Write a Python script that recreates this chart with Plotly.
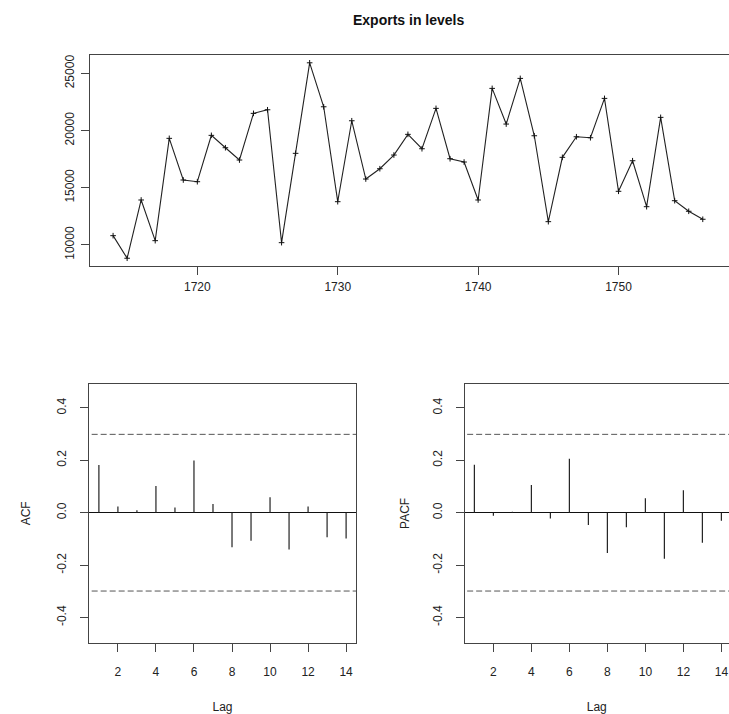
import numpy as np
import plotly.graph_objects as go

# ---- data ----
years = list(range(1714, 1757))
exports = [10804, 8829, 13925, 10367, 19318, 15673, 15524, 19580, 18497, 17421,
           21503, 21818, 10192, 18007, 25927, 22080, 13776, 20857, 15760, 16661,
           17858, 19668, 18409, 21941, 17535, 17247, 13925, 23689, 20568, 24563,
           19545, 12028, 17657, 19458, 19371, 22815, 14685, 17360, 13339, 21154,
           13864, 12937, 12238]
lags = list(range(1, 15))
acf_vals = [0.182, 0.024, 0.009, 0.102, 0.020, 0.199, 0.033, -0.132, -0.107,
            0.059, -0.140, 0.024, -0.094, -0.098]
pacf_vals = [0.183, -0.012, 0.004, 0.106, -0.022, 0.206, -0.047, -0.154, -0.056,
             0.055, -0.176, 0.086, -0.115, -0.031]
year_ticks = [1720, 1730, 1740, 1750]
level_ticks = [10000, 15000, 20000, 25000]
level_tick_text = ["10000", "15000", "20000", "25000"]
corr_ticks = [-0.4, -0.2, 0.0, 0.2, 0.4]
corr_tick_text = ["-0.4", "-0.2", "0.0", "0.2", "0.4"]
lag_ticks = [2, 4, 6, 8, 10, 12, 14]

n = len(exports)
ci = 1.96 / np.sqrt(n)

W, H = 729, 714
FONT = "Liberation Sans, Arial, sans-serif"
AX = "#444444"
TXT = "#222222"


def px_x(a, b):
    return [a / W, min(b / W, 1.0)]


def px_y(top, bottom):
    return [1 - bottom / H, 1 - top / H]


def spikes(xs, ys):
    sx, sy = [], []
    for x, y in zip(xs, ys):
        sx += [x, x, None]
        sy += [0, y, None]
    return sx, sy


fig = go.Figure()

fig.add_trace(go.Scatter(
    x=years, y=exports, mode="lines+markers",
    line=dict(color="#222222", width=1.1),
    marker=dict(symbol="cross-thin", size=4, line=dict(color="#111111", width=1)),
    xaxis="x", yaxis="y", showlegend=False, hoverinfo="skip"))

ax, ay = spikes(lags, acf_vals)
fig.add_trace(go.Scatter(x=ax, y=ay, mode="lines", line=dict(color="#222222", width=1.2),
                         xaxis="x2", yaxis="y2", showlegend=False, hoverinfo="skip"))
px_, py_ = spikes(lags, pacf_vals)
fig.add_trace(go.Scatter(x=px_, y=py_, mode="lines", line=dict(color="#222222", width=1.2),
                         xaxis="x3", yaxis="y3", showlegend=False, hoverinfo="skip"))

common = dict(showgrid=False, ticks="outside", ticklen=8, tickwidth=1, tickcolor=AX,
              showline=True, linecolor=AX, linewidth=1, automargin=False,
              tickfont=dict(family=FONT, size=12, color=TXT))
tfont = dict(family=FONT, size=12, color=TXT)

yr0 = 1712.32
yrppx = 14.04
fig.update_layout(
    width=W, height=H, margin=dict(l=0, r=0, t=0, b=0),
    plot_bgcolor="white", paper_bgcolor="white",
    xaxis=dict(domain=px_x(89.5, 729), range=[yr0, yr0 + (729 - 89.5) / yrppx],
               tickvals=year_ticks, mirror=True, zeroline=False, anchor="y",
               ticklabelstandoff=2, **common),
    yaxis=dict(domain=px_y(55, 266), range=[8150, 26610], tickvals=level_ticks,
               ticktext=level_tick_text,
               tickangle=-90, zeroline=False, anchor="x", ticklabelstandoff=2, **common),
    xaxis2=dict(domain=px_x(89, 356), range=[0.48, 14.52], tickvals=lag_ticks,
                mirror=True, zeroline=False, anchor="y2", ticklabelstandoff=10,
                title=dict(text="Lag", font=tfont, standoff=24), **common),
    yaxis2=dict(domain=px_y(384, 642.7), range=[-0.496, 0.491], tickvals=corr_ticks,
                ticktext=corr_tick_text, tickangle=-90, mirror=True, anchor="x2",
                zeroline=True, zerolinecolor="#111111", zerolinewidth=1.2,
                ticklabelstandoff=9,
                title=dict(text="ACF", font=tfont, standoff=21), **common),
    xaxis3=dict(domain=px_x(464.5, 729), range=[0.48, 0.48 + (729 - 464.5) / 19.0],
                tickvals=lag_ticks, mirror=True, zeroline=False, anchor="y3",
                ticklabelstandoff=10,
                title=dict(text="Lag", font=tfont, standoff=24), **common),
    yaxis3=dict(domain=px_y(384, 642.7), range=[-0.496, 0.491], tickvals=corr_ticks,
                ticktext=corr_tick_text, tickangle=-90, anchor="x3",
                zeroline=True, zerolinecolor="#111111", zerolinewidth=1.2,
                ticklabelstandoff=9,
                title=dict(text="PACF", font=tfont, standoff=18), **common),
    annotations=[dict(text="<b>Exports in levels</b>", x=408 / W, y=1 - 20 / H,
                      xref="paper", yref="paper", xanchor="center", yanchor="middle",
                      showarrow=False,
                      font=dict(family=FONT, size=14, color="#111111"))],
)

for xr, yr in (("x2", "y2"), ("x3", "y3")):
    for v in (ci, -ci):
        fig.add_shape(type="line", xref=f"{xr} domain", yref=yr, x0=0.01, x1=1, y0=v, y1=v,
                      line=dict(color="#555555", width=1, dash="6px,3px"))

fig.write_html("out.html", config={"displayModeBar": False, "staticPlot": True},
               post_script="document.body.style.margin='0';document.body.style.overflow='hidden';")
